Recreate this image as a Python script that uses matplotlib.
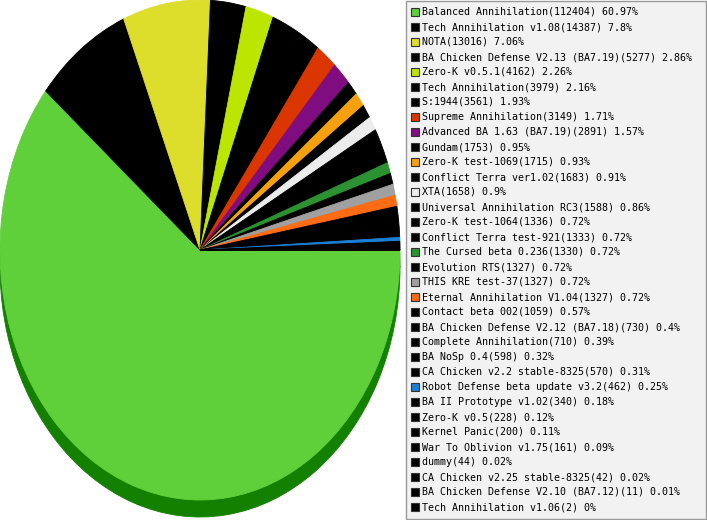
import matplotlib
matplotlib.use('Agg')
import matplotlib.pyplot as plt
from matplotlib.patches import Rectangle

# Data
labels = ['Balanced Annihilation', 'Tech Annihilation v1.08', 'NOTA',
          'BA Chicken Defense V2.13 (BA7.19)', 'Zero-K v0.5.1', 'Tech Annihilation',
          'S:1944', 'Supreme Annihilation', 'Advanced BA 1.63 (BA7.19)', 'Gundam',
          'Zero-K test-1069', 'Conflict Terra ver1.02', 'XTA',
          'Universal Annihilation RC3', 'Zero-K test-1064', 'Conflict Terra test-921',
          'The Cursed beta 0.236', 'Evolution RTS', 'THIS KRE test-37',
          'Eternal Annihilation V1.04', 'Contact beta 002',
          'BA Chicken Defense V2.12 (BA7.18)', 'Complete Annihilation', 'BA NoSp 0.4',
          'CA Chicken v2.2 stable-8325', 'Robot Defense beta update v3.2',
          'BA II Prototype v1.02', 'Zero-K v0.5', 'Kernel Panic', 'War To Oblivion v1.75',
          'dummy', 'CA Chicken v2.25 stable-8325', 'BA Chicken Defense V2.10 (BA7.12)',
          'Tech Annihilation v1.06']
counts = [112404, 14387, 13016, 5277, 4162, 3979, 3561, 3149, 2891, 1753, 1715, 1683,
          1658, 1588, 1336, 1333, 1330, 1327, 1327, 1327, 1059, 730, 710, 598, 570, 462,
          340, 228, 200, 161, 44, 42, 11, 2]
percents = ['60.97', '7.8', '7.06', '2.86', '2.26', '2.16', '1.93', '1.71', '1.57', '0.95',
            '0.93', '0.91', '0.9', '0.86', '0.72', '0.72', '0.72', '0.72', '0.72', '0.72',
            '0.57', '0.4', '0.39', '0.32', '0.31', '0.25', '0.18', '0.12', '0.11', '0.09',
            '0.02', '0.02', '0.01', '0']

# slice colours (most are black)
colors = ['#000000'] * len(counts)
colors[0] = '#60d03a'
colors[2] = '#dddd2b'
colors[4] = '#bce600'
colors[7] = '#db3600'
colors[8] = '#7f0d7f'
colors[10] = '#f5a10f'
colors[12] = '#ececec'
colors[16] = '#2c9130'
colors[18] = '#a0a0a0'
colors[19] = '#fd6b12'
colors[25] = '#1c7fd6'

W, H = 707, 520
fig = plt.figure(figsize=(W / 100, H / 100), dpi=100)

# pie axes: ellipse 400 px wide, 500 px tall, centre at (200, 250) px
ax = fig.add_axes([0, 0, 400 / W, 1])
sh_wedges, _ = ax.pie(counts, startangle=0, counterclock=False, radius=1,
                      center=(0, -17 / 250), colors=['#138000'] * len(counts),
                      wedgeprops=dict(linewidth=0.6, edgecolor='#138000'))
wedges, _ = ax.pie(counts, startangle=0, counterclock=False, radius=1, center=(0, 0),
                   colors=colors, wedgeprops=dict(linewidth=0.6))
for w, c in zip(wedges, colors):
    w.set_edgecolor(c)
ax.set_aspect('auto')
ax.set_xlim(-1, 1)
ax.set_ylim(1 - H / 250, 1)
ax.axis('off')

# legend, drawn in pixel coordinates
lg = fig.add_axes([0, 0, 1, 1], zorder=5)
lg.set_xlim(0, W)
lg.set_ylim(H, 0)
lg.axis('off')
lg.add_patch(Rectangle((405.5, 0.5), 300.5, 518.5, facecolor='#f2f2f2',
                       edgecolor='#999999', linewidth=1))
for i, (lab, n, p) in enumerate(zip(labels, counts, percents)):
    y = 12 + i * 15
    lg.add_patch(Rectangle((411, y - 4), 7.5, 7.5, facecolor=colors[i],
                           edgecolor='#333333', linewidth=0.8))
    lg.text(422, y, f'{lab}({n}) {p}%', fontsize=7.2, family='DejaVu Sans Mono',
            va='center', ha='left', color='#000000')

fig.savefig('out.png', dpi=100)
